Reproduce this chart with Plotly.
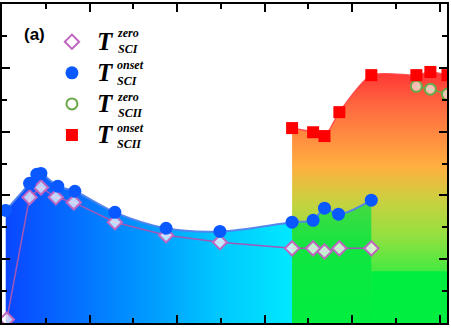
import plotly.graph_objects as go

# Pressure (x) and transition temperature (y) for the two superconducting phases
sci_onset_p = [0.85, 6.3, 7.95, 8.9, 12.75, 16.65, 25.8, 37.5, 49.8, 66.3, 71.1, 73.7, 76.9, 84.4]
sci_onset_t = [3.53, 4.38, 4.66, 4.69, 4.29, 4.13, 3.47, 2.97, 2.87, 3.16, 3.22, 3.60, 3.41, 3.85]

sci_zero_p = [1.1, 6.3, 8.9, 12.3, 16.4, 25.8, 37.5, 49.8, 66.3, 71.1, 73.7, 77.1, 84.4]
sci_zero_t = [0.11, 3.94, 4.25, 3.94, 3.78, 3.16, 2.75, 2.53, 2.34, 2.34, 2.24, 2.34, 2.34]

scii_onset_p = [66.3, 71.1, 73.7, 77.1, 84.4, 94.7, 97.9, 101.8]
scii_onset_t = [6.11, 5.98, 5.86, 6.61, 7.77, 7.77, 7.87, 7.77]

scii_zero_p = [94.7, 97.9, 101.8]
scii_zero_t = [7.42, 7.33, 7.17]

x_max = 101.7
y_max = 10
green_floor = 1.62

# split SC-I onset curve where the SC-II phase appears
p_split = scii_onset_p[0]
i_split = sci_onset_p.index(p_split)
blue_p, blue_t = sci_onset_p[: i_split + 1], sci_onset_t[: i_split + 1]
mix_p, mix_t = sci_onset_p[i_split:], sci_onset_t[i_split:]

fig = go.Figure()

# SC-II region: vertical red -> orange -> green gradient
fig.add_trace(go.Scatter(
    x=scii_onset_p, y=scii_onset_t, mode="lines", fill="tozeroy",
    line=dict(color="rgba(255,70,70,0.9)", width=1.5, shape="spline", smoothing=0.7),
    fillgradient=dict(type="vertical", start=0, stop=max(scii_onset_t),
                      colorscale=[[0, "#00ee40"], [0.2, "#40ea40"], [0.35, "#95e040"],
                                  [0.49, "#cad040"], [0.62, "#ffb040"], [0.73, "#ff9040"],
                                  [0.86, "#ff6a40"], [1, "#ff3535"]]),
    showlegend=False, hoverinfo="skip"))

# green floor of the SC-II region beyond the SC-I range
fig.add_trace(go.Scatter(
    x=[sci_onset_p[-1], x_max + 1], y=[green_floor, green_floor], mode="lines",
    fill="tozeroy", fillcolor="#00ee40", line=dict(width=0),
    showlegend=False, hoverinfo="skip"))

# SC-I region: horizontal blue -> cyan gradient
fig.add_trace(go.Scatter(
    x=blue_p, y=blue_t, mode="lines", fill="tozeroy",
    line=dict(width=0, shape="spline"),
    fillgradient=dict(type="horizontal", start=0, stop=p_split,
                      colorscale=[[0, "#0a44ff"], [0.5, "#0099ff"],
                                  [0.75, "#00c8ff"], [1, "#00e8ff"]]),
    showlegend=False, hoverinfo="skip"))

# coexistence region under SC-I onset: green
fig.add_trace(go.Scatter(
    x=mix_p, y=mix_t, mode="lines", fill="tozeroy",
    line=dict(width=0, shape="spline"),
    fillgradient=dict(type="vertical", start=0, stop=max(mix_t),
                      colorscale=[[0, "#00ee40"], [0.6, "#10e640"], [1, "#4ad842"]]),
    showlegend=False, hoverinfo="skip"))

# connecting lines
fig.add_trace(go.Scatter(x=sci_onset_p, y=sci_onset_t, mode="lines",
                         line=dict(color="rgba(80,130,235,0.95)", width=2, shape="spline"),
                         showlegend=False, hoverinfo="skip"))
fig.add_trace(go.Scatter(x=sci_zero_p, y=sci_zero_t, mode="lines",
                         line=dict(color="#a058b8", width=1.5),
                         showlegend=False, hoverinfo="skip"))
fig.add_trace(go.Scatter(x=scii_zero_p, y=scii_zero_t, mode="lines",
                         line=dict(color="#6aa84a", width=1.5),
                         showlegend=False, hoverinfo="skip"))

T_LABEL = '<span style="font-size:25px"><b><i>T</i></b></span>'

# markers
fig.add_trace(go.Scatter(x=sci_zero_p, y=sci_zero_t, mode="markers", name=T_LABEL,
                         legendgroup="a",
                         marker=dict(symbol="diamond", size=11, color="rgba(255,255,255,0.72)",
                                     line=dict(color="#c065c0", width=2))))
fig.add_trace(go.Scatter(x=sci_onset_p, y=sci_onset_t, mode="markers", name=T_LABEL,
                         legendgroup="b",
                         marker=dict(symbol="circle", size=13, color="#0a58ff",
                                     line=dict(width=0))))
fig.add_trace(go.Scatter(x=scii_zero_p, y=scii_zero_t, mode="markers", name=T_LABEL,
                         legendgroup="c",
                         marker=dict(symbol="circle", size=11, color="rgba(255,255,255,0.62)",
                                     line=dict(color="#6aa84a", width=2))))
fig.add_trace(go.Scatter(x=scii_onset_p, y=scii_onset_t, mode="markers", name=T_LABEL,
                         legendgroup="d",
                         marker=dict(symbol="square", size=12, color="#ff0000",
                                     line=dict(width=0))))

axis_common = dict(showgrid=False, zeroline=False, showticklabels=False,
                   showline=True, linecolor="black", linewidth=2, mirror="allticks",
                   ticks="inside", ticklen=8, tickwidth=2, tickcolor="black")

fig.update_layout(
    width=451, height=328,
    margin=dict(l=2, r=4, t=4, b=5),
    paper_bgcolor="white", plot_bgcolor="white",
    xaxis=dict(range=[0, x_max], tick0=0, dtick=20,
               minor=dict(dtick=10, ticks="inside", ticklen=5, tickwidth=2, tickcolor="black"),
               **axis_common),
    yaxis=dict(range=[0, y_max], tick0=0, dtick=2,
               minor=dict(dtick=1, ticks="inside", ticklen=5, tickwidth=2, tickcolor="black"),
               **axis_common),
    legend=dict(x=0.101, xanchor="left", y=0.946, yanchor="top",
                bgcolor="rgba(0,0,0,0)", borderwidth=0, itemwidth=40,
                font=dict(family="Liberation Serif", size=21.6, color="black"),
                traceorder="normal", tracegroupgap=0),
    showlegend=True,
)

# stacked superscript / subscript of the legend labels
sup_sub = [("zero", "SCI"), ("onset", "SCI"), ("zero", "SCII"), ("onset", "SCII")]
row_y = [0.883, 0.784, 0.684, 0.587]
for (sup, sub), yy in zip(sup_sub, row_y):
    fig.add_annotation(xref="paper", yref="paper", x=0.253, y=yy,
                       xanchor="left", yanchor="middle", showarrow=False, align="left",
                       text=f"<b><i>{sup}</i></b><br><b><i>{sub}</i></b>",
                       font=dict(family="Liberation Serif", size=12, color="black"))

fig.add_annotation(xref="paper", yref="paper", x=0.072, y=0.905, xanchor="center",
                   yanchor="middle", showarrow=False, text="<b>(a)</b>",
                   font=dict(family="Liberation Sans", size=17, color="black"))

fig.write_html("out.html")
